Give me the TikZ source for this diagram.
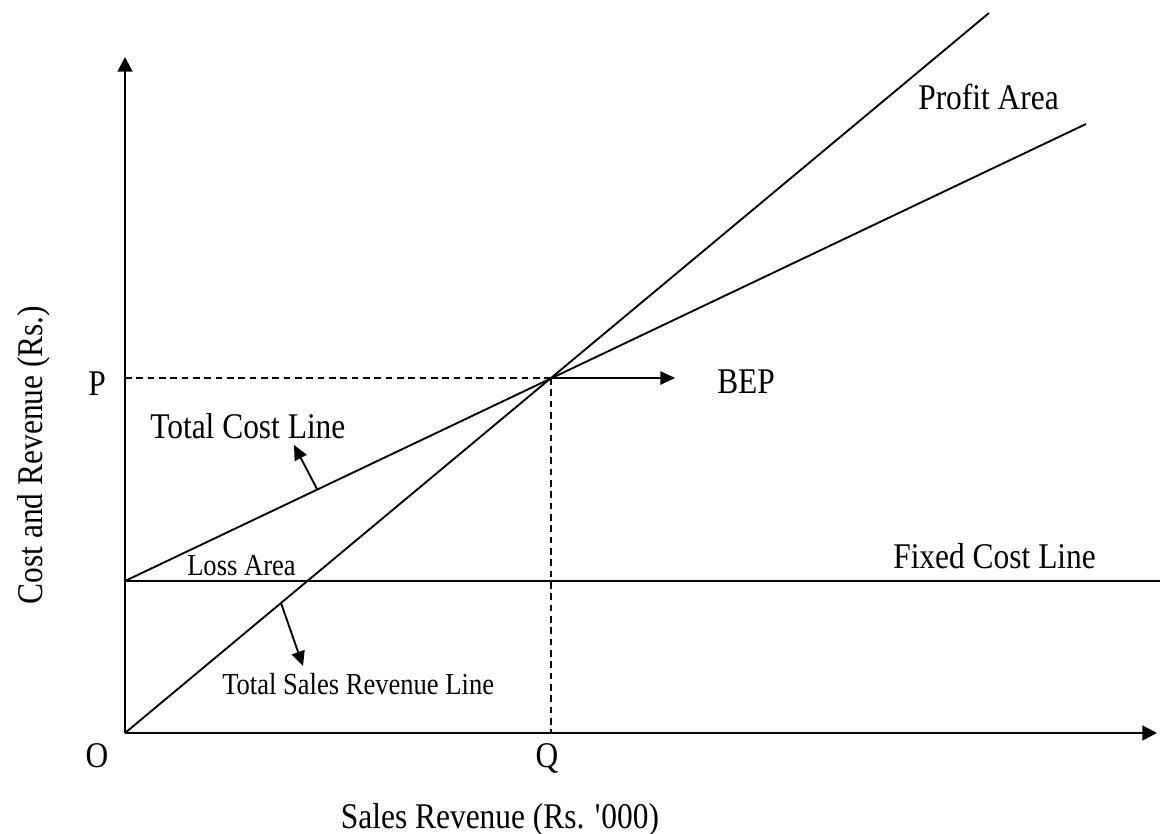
\documentclass[tikz,border=0pt]{standalone}
\usepackage{fontspec}
\setmainfont{Liberation Serif}[FakeStretch=0.87]
\usetikzlibrary{arrows.meta}
\begin{document}
\begin{tikzpicture}[x=0.75pt,y=-0.75pt,
  axis/.style={line width=2.1pt,-{Triangle[length=11pt,width=11pt]}},
  curve/.style={line width=1.4pt},
  guide/.style={line width=1.4pt,dash pattern=on 5pt off 3.5pt},
  pointer/.style={line width=1.4pt,-{Triangle[length=11pt,width=10pt]}},
  big/.style={font=\fontsize{27.1}{32}\selectfont,inner sep=0pt},
  small/.style={font=\fontsize{22.9}{27}\selectfont,inner sep=0pt}]
\useasboundingbox (0,0) rectangle (1160,834);
% key points
\coordinate (O) at (125,733);
\coordinate (ytip) at (125,57);
\coordinate (xtip) at (1157,733);
\coordinate (F0) at (125,581);
\coordinate (Fend) at (1160,581);
\coordinate (TCend) at (1086,124);
\coordinate (SRend) at (989,13);
\coordinate (BEP) at (551,378);
\coordinate (Pax) at (125,378);
\coordinate (Qax) at (551,733);
\coordinate (BEPtip) at (675,378);
\coordinate (TCfoot) at (317,489);
\coordinate (TCtip) at (294,445);
\coordinate (SRfoot) at (281,603);
\coordinate (SRtip) at (303,666);
% axes
\draw[axis] (O) -- (ytip);
\draw[axis] (O) -- (xtip);
% lines
\draw[curve] (F0) -- (Fend);
\draw[curve] (F0) -- (TCend);
\draw[curve] (O) -- (SRend);
% guides
\draw[guide] (Pax) -- (BEP);
\draw[guide] (BEP) -- (Qax);
% pointers
\draw[pointer] (BEP) -- (BEPtip);
\draw[pointer] (TCfoot) -- (TCtip);
\draw[pointer] (SRfoot) -- (SRtip);
% labels
\node[big,anchor=base] (lP) at (97,395) {P};
\node[big,anchor=base] (lO) at (97,767) {O};
\node[big,anchor=base] (lQ) at (547,767) {Q};
\node[big,anchor=base west] (lBEP) at (717,393) {BEP};
\node[big,anchor=base west] (lTC) at (150,438) {Total Cost Line};
\node[small,anchor=base west] (lLoss) at (187,575) {Loss Area};
\node[small,anchor=base west] (lSR) at (222,694) {Total Sales Revenue Line};
\node[big,anchor=base west] (lFC) at (893,568) {Fixed Cost Line};
\node[big,anchor=base west] (lPA) at (918,110) {Profit Area};
\node[big,anchor=base,rotate=90] (lY) at (42,455) {Cost and Revenue (Rs.)};
\node[big,anchor=base] (lX) at (500,828) {Sales Revenue (Rs. \textquotesingle 000)};
\end{tikzpicture}
\end{document}
